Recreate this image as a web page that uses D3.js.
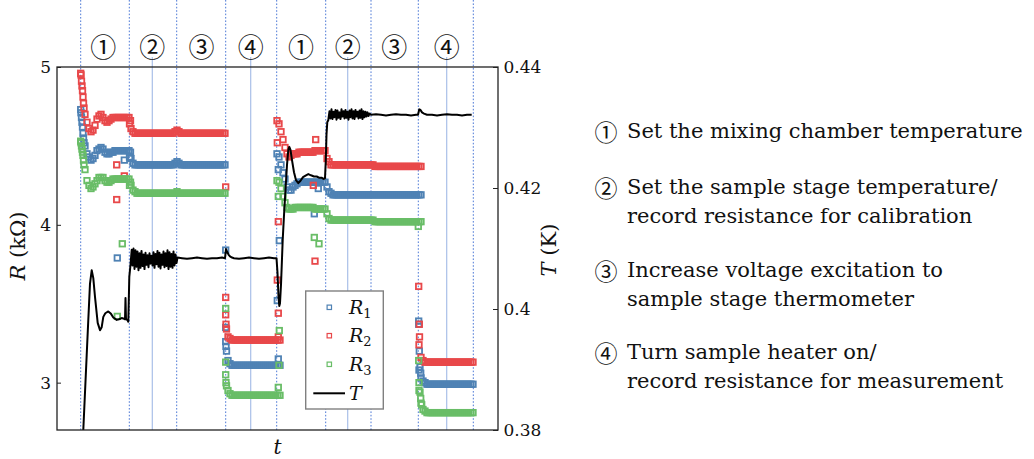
<!DOCTYPE html>
<html><head><meta charset="utf-8">
<script src="https://cdn.jsdelivr.net/npm/d3@7"></script>
<style>
html,body{margin:0;padding:0;background:#fff;}
svg{display:block;}
</style></head>
<body>
<svg id="chart" width="1034" height="459"></svg>
<script>
// ---------------- data ----------------
const tDomain = [0, 441];            // time (arbitrary units)
const rDomain = [2.7, 5];            // kOhm
const tempDomain = [0.38, 0.44];     // K
const rTicks = [3, 4, 5];
const rTickLabels = ["3", "4", "5"];
const tempTicks = [0.38, 0.40, 0.42, 0.44];
const tempTickLabels = ["0.38", "0.4", "0.42", "0.44"];

// phase boundaries (dotted), phase mid markers (solid), phase labels
const phaseEdges = [23.7, 72.3, 119.7, 168.7, 219.7, 268.7, 314, 361.3, 416.3];
const phaseMids = [95.3, 193.7, 290.7, 389.7];
const phaseLabelT = [46.3, 95.3, 144.5, 193.7, 244, 290.7, 337.3, 389.7];
const phaseLabels = ["①", "②", "③", "④", "①", "②", "③", "④"];

// regular sampling: segment start times, step
const segStart = [24, 74, 169, 220, 270, 362];
const sampleStep = 2;

const R1_A = [4.71,4.58,4.50,4.45,4.43,4.41,4.42,4.44,4.47,4.48,4.49,4.48,4.46,4.45,4.45,4.46,4.46,4.47,4.47,4.47,4.47,4.47,4.47,4.47,4.47];
const R1_B = [4.42,4.39,4.38,4.38,4.38,4.38,4.38,4.38,4.38,4.38,4.38,4.38,4.38,4.38,4.38,4.38,4.38,4.38,4.38,4.38,4.38,4.38,4.39,4.40,4.39,4.38,4.38,4.38,4.38,4.38,4.38,4.38,4.38,4.38,4.38,4.38,4.38,4.38,4.38,4.38,4.38,4.38,4.38,4.38,4.38,4.38,4.38,4.38];
const R1_C = [3.23,3.14,3.12,3.11,3.11,3.11,3.11,3.11,3.11,3.11,3.11,3.11,3.11,3.11,3.11,3.11,3.11,3.11,3.11,3.11,3.11,3.11,3.11,3.11,3.11,3.11,3.11,3.11];
const R1_D = [4.45,4.43,4.38,4.33,4.29,4.24,4.22,4.22,4.24,4.25,4.26,4.27,4.27,4.27,4.27,4.27,4.27,4.27,4.27,4.27,4.27,4.27,4.27,4.27,4.27];
const R1_E = [4.24,4.21,4.20,4.19,4.19,4.19,4.19,4.19,4.19,4.19,4.19,4.19,4.19,4.19,4.19,4.19,4.19,4.19,4.19,4.19,4.19,4.19,4.19,4.19,4.19,4.19,4.19,4.19,4.19,4.19,4.19,4.19,4.19,4.19,4.19,4.19,4.19,4.19,4.19,4.19,4.19,4.19,4.19,4.19,4.19,4.19,4.19,4.19];
const R1_F = [3.08,3.03,3.01,3.00,2.99,2.99,2.99,2.99,2.99,2.99,2.99,2.99,2.99,2.99,2.99,2.99,2.99,2.99,2.99,2.99,2.99,2.99,2.99,2.99,2.99,2.99,2.99,2.99];

const R2_A = [4.95,4.81,4.70,4.65,4.61,4.59,4.60,4.63,4.67,4.69,4.70,4.68,4.66,4.65,4.66,4.67,4.68,4.68,4.68,4.68,4.68,4.68,4.68,4.68,4.68];
const R2_B = [4.61,4.59,4.58,4.58,4.58,4.58,4.58,4.58,4.58,4.58,4.58,4.58,4.58,4.58,4.58,4.58,4.58,4.58,4.58,4.58,4.58,4.58,4.59,4.60,4.59,4.58,4.58,4.58,4.58,4.58,4.58,4.58,4.58,4.58,4.58,4.58,4.58,4.58,4.58,4.58,4.58,4.58,4.58,4.58,4.58,4.58,4.58,4.58];
const R2_C = [3.37,3.29,3.28,3.27,3.27,3.27,3.27,3.27,3.27,3.27,3.27,3.27,3.27,3.27,3.27,3.27,3.27,3.27,3.27,3.27,3.27,3.27,3.27,3.27,3.27,3.27,3.27,3.27];
const R2_D = [4.66,4.64,4.59,4.54,4.49,4.45,4.43,4.44,4.45,4.45,4.45,4.46,4.46,4.46,4.46,4.46,4.46,4.46,4.46,4.47,4.47,4.47,4.47,4.47,4.47];
const R2_E = [4.42,4.40,4.38,4.38,4.38,4.38,4.38,4.38,4.38,4.38,4.38,4.38,4.38,4.38,4.38,4.38,4.38,4.38,4.38,4.38,4.38,4.38,4.38,4.38,4.37,4.37,4.37,4.37,4.37,4.37,4.37,4.37,4.37,4.37,4.37,4.37,4.37,4.37,4.37,4.37,4.37,4.37,4.37,4.37,4.37,4.37,4.37,4.37];
const R2_F = [3.24,3.16,3.14,3.13,3.13,3.13,3.13,3.13,3.13,3.13,3.13,3.13,3.13,3.13,3.13,3.13,3.13,3.13,3.13,3.13,3.13,3.13,3.13,3.13,3.13,3.13,3.13,3.13];

const R3_A = [4.52,4.44,4.35,4.28,4.25,4.23,4.24,4.26,4.28,4.30,4.30,4.30,4.28,4.27,4.27,4.28,4.29,4.29,4.29,4.29,4.29,4.29,4.29,4.29,4.29];
const R3_B = [4.25,4.22,4.21,4.20,4.20,4.20,4.20,4.20,4.20,4.20,4.20,4.20,4.20,4.20,4.20,4.20,4.20,4.20,4.20,4.20,4.20,4.20,4.20,4.21,4.20,4.20,4.20,4.20,4.20,4.20,4.20,4.20,4.20,4.20,4.20,4.20,4.20,4.20,4.20,4.20,4.20,4.20,4.20,4.20,4.20,4.20,4.20,4.20];
const R3_C = [3.00,2.95,2.93,2.92,2.92,2.92,2.92,2.92,2.92,2.92,2.92,2.92,2.92,2.92,2.92,2.92,2.92,2.92,2.92,2.92,2.92,2.92,2.92,2.92,2.92,2.92,2.92,2.92];
const R3_D = [4.28,4.27,4.23,4.18,4.14,4.11,4.10,4.10,4.10,4.11,4.11,4.11,4.11,4.11,4.11,4.11,4.11,4.11,4.11,4.10,4.10,4.10,4.10,4.10,4.10];
const R3_E = [4.07,4.04,4.03,4.03,4.03,4.03,4.03,4.03,4.03,4.03,4.03,4.03,4.03,4.03,4.03,4.03,4.03,4.03,4.03,4.03,4.03,4.03,4.03,4.03,4.02,4.02,4.02,4.02,4.02,4.02,4.02,4.02,4.02,4.02,4.02,4.02,4.02,4.02,4.02,4.02,4.02,4.02,4.02,4.02,4.02,4.02,4.02,4.02];
const R3_F = [2.95,2.87,2.83,2.82,2.81,2.81,2.81,2.81,2.81,2.81,2.81,2.81,2.81,2.81,2.81,2.81,2.81,2.81,2.81,2.81,2.81,2.81,2.81,2.81,2.81,2.81,2.81,2.81];

// irregular samples (fast transients and stray readings): [t, R]
const R1_extra = [[23.7,4.73],[24.5,4.68],[25,4.65],[25.5,4.62],[26.5,4.55],[27,4.52],[72.5,4.43],[73.5,4.46],[60.3,3.79],[67.3,4.41],[168.7,3.84],[168.7,3.35],[168.7,3.26],[169.5,3.20],[220.3,3.52],[221.3,3.15],[221.3,4.35],[222.3,3.90],[257.3,4.07],[261.3,4.23],[361.7,3.39],[361.7,3.37],[362.3,3.20],[363,3.10],[363.7,3.06]];
const R2_extra = [[23.7,4.96],[24.5,4.91],[25,4.88],[25.5,4.85],[26.5,4.77],[27,4.74],[72.5,4.64],[73.5,4.66],[59.7,4.38],[59.7,4.16],[67.3,4.31],[168.7,4.24],[168.7,3.54],[168.7,3.43],[169.5,3.34],[220.3,4.52],[220.3,3.65],[221.3,3.44],[221.3,3.29],[221.3,4.02],[256.3,4.25],[258,3.77],[258.7,4.54],[361.7,3.61],[362.3,3.37],[362.5,3.29]];
const R3_extra = [[23.7,4.53],[24.5,4.50],[25,4.48],[25.5,4.46],[26.5,4.41],[27,4.38],[72.5,4.25],[73.5,4.27],[60.3,3.42],[65.3,3.88],[168.7,3.47],[168.7,3.13],[168.7,3.05],[169.5,2.98],[221.3,2.97],[221.3,4.18],[222,3.11],[222.3,3.33],[257.3,3.92],[262,3.88],[361.3,3.99],[361.7,3.14],[362,3.00],[363,2.94],[363.7,2.90],[364.7,2.86]];

// temperature trace: [t, T (K)]
const tempTrace = [
[25.5,0.370],[26.3,0.380],[29.7,0.3924],[31.3,0.3982],[33,0.4042],[34.7,0.4064],[36.3,0.4051],[38,0.4020],[40.7,0.3977],[43,0.3965],[44.7,0.3970],[46.3,0.3987],[48.3,0.3993],[51.3,0.3996],[54,0.3992],[56.3,0.3986],[59.7,0.3982],[62,0.3983],[64.7,0.3985],[67,0.3984],[68,0.3983],[68.5,0.4018],[69,0.3983],[70.3,0.3982],[71.3,0.3979],[72.3,0.4053],[73.5,0.4073],[74.7,0.4098],
[75.5,0.4072],[76.5,0.4100],[77.5,0.4066],[78.5,0.4097],[79.5,0.4070],[80.5,0.4095],[81.5,0.4064],[82.5,0.4092],[83.5,0.4068],[84.5,0.4096],[85.5,0.4071],[86.5,0.4090],[87.5,0.4066],[88.5,0.4093],[89.5,0.4073],[90.5,0.4089],[91.5,0.4069],[92.5,0.4092],[93.5,0.4075],[94.5,0.4088],[95.5,0.4072],[96.5,0.4094],[97.5,0.4068],[98.5,0.4091],[99.5,0.4074],[100.5,0.4096],[101.5,0.4070],[102.5,0.4093],[103.5,0.4067],[104.5,0.4090],[105.5,0.4073],[106.5,0.4095],[107.5,0.4069],[108.5,0.4092],[109.5,0.4071],[110.5,0.4097],[111.5,0.4066],[112.5,0.4094],[113.5,0.4070],[114.5,0.4091],[115.5,0.4068],[116.5,0.4095],[117.5,0.4072],[118.5,0.4090],[119.5,0.4076],
[120.5,0.4085],[125,0.4084],[130,0.4083],[135,0.4084],[140,0.4085],[145,0.4084],[150,0.4083],[155,0.4084],[160,0.4084],[165,0.4085],[168,0.4084],[169,0.4099],[170,0.4095],[171.5,0.4090],[173,0.4087],[175,0.4085],[177,0.4084],[182,0.4083],[187,0.4084],[192,0.4085],[197,0.4084],[202,0.4083],[207,0.4084],[212,0.4085],[217,0.4084],[219.5,0.4084],
[220.5,0.4060],[221.5,0.4020],[222.3,0.4005],[223,0.4010],[224,0.4040],[225.7,0.4114],[227,0.4155],[228.5,0.4197],[230,0.4238],[231.3,0.4263],[232.3,0.4268],[233.5,0.4263],[235,0.4246],[237,0.4226],[239,0.4213],[241.3,0.4208],[243.5,0.4212],[246,0.4218],[249,0.4221],[251.3,0.4223],[254,0.4221],[257,0.4219],[259.7,0.4219],[262,0.4217],[264.5,0.4217],[266.5,0.4215],[268,0.4216],[268.8,0.4246],[269.5,0.4288],[270.3,0.4309],[271.3,0.4312],
[272.5,0.4327],[273.5,0.4315],[274.5,0.4330],[275.5,0.4314],[276.5,0.4326],[277.5,0.4317],[278.5,0.4329],[279.5,0.4313],[280.5,0.4328],[281.5,0.4316],[282.5,0.4325],[283.5,0.4314],[284.5,0.4330],[285.5,0.4318],[286.5,0.4327],[287.5,0.4315],[288.5,0.4329],[289.5,0.4316],[290.5,0.4326],[291.5,0.4313],[292.5,0.4328],[293.5,0.4317],[294.5,0.4330],[295.5,0.4315],[296.5,0.4327],[297.5,0.4314],[298.5,0.4329],[299.5,0.4318],[300.5,0.4326],[301.5,0.4315],[302.5,0.4328],[303.5,0.4316],[304.5,0.4330],[305.5,0.4314],[306.5,0.4327],[307.5,0.4317],[308.5,0.4326],[309.5,0.4318],[310.5,0.4325],[311.5,0.4319],[312.5,0.4323],
[314,0.4321],[319,0.4322],[324,0.4321],[329,0.4320],[334,0.4321],[339,0.4322],[344,0.4321],[349,0.4321],[354,0.4320],[359,0.4321],[361,0.4321],[362.3,0.4330],[363.5,0.4329],[365,0.4325],[367,0.4323],[370,0.4321],[375,0.4321],[380,0.4320],[385,0.4321],[390,0.4322],[395,0.4321],[400,0.4321],[405,0.4320],[410,0.4321],[414.7,0.4321]
];

const seriesNames = ["R1", "R2", "R3"];
const seriesColors = ["#4f82b4", "#e8484a", "#69bd67"];
const noteMarks = ["①", "②", "③", "④"];
const noteLines = [
  ["Set the mixing chamber temperature"],
  ["Set the sample stage temperature/", "record resistance for calibration"],
  ["Increase voltage excitation to", "sample stage thermometer"],
  ["Turn sample heater on/", "record resistance for measurement"]
];

// ---------------- drawing ----------------
const svg = d3.select("#chart");
const plot = {left: 57, right: 498, top: 67, bottom: 430};
const x = d3.scaleLinear().domain(tDomain).range([plot.left, plot.right]);
const yR = d3.scaleLinear().domain(rDomain).range([plot.bottom, plot.top]);
const yT = d3.scaleLinear().domain(tempDomain).range([plot.bottom, plot.top]);
const serif = "'DejaVu Serif', 'Liberation Serif', serif";
const circFont = "'Noto Sans CJK JP', 'DejaVu Sans', sans-serif";

svg.append("defs").append("clipPath").attr("id", "plotclip")
  .append("rect").attr("x", plot.left).attr("y", plot.top)
  .attr("width", plot.right - plot.left).attr("height", plot.bottom - plot.top);

// vertical guide lines
svg.append("g").selectAll("line").data(phaseEdges).join("line")
  .attr("x1", d => x(d)).attr("x2", d => x(d))
  .attr("y1", 0).attr("y2", plot.bottom)
  .attr("stroke", "#4d79d6").attr("stroke-width", 1)
  .attr("stroke-dasharray", "1.6,1.8");
svg.append("g").selectAll("line").data(phaseMids).join("line")
  .attr("x1", d => x(d)).attr("x2", d => x(d))
  .attr("y1", 57).attr("y2", plot.bottom)
  .attr("stroke", "#a9bfe8").attr("stroke-width", 1.2);

// phase labels
svg.append("g").selectAll("text").data(phaseLabels).join("text")
  .attr("x", (d, i) => x(phaseLabelT[i])).attr("y", 45)
  .attr("text-anchor", "middle").attr("dominant-baseline", "central")
  .attr("font-family", circFont).attr("font-size", 26)
  .attr("fill", "#111").text(d => d);

// resistance markers
const allSeg = [
  [R1_A, R1_B, R1_C, R1_D, R1_E, R1_F],
  [R2_A, R2_B, R2_C, R2_D, R2_E, R2_F],
  [R3_A, R3_B, R3_C, R3_D, R3_E, R3_F]
];
const extras = [R1_extra, R2_extra, R3_extra];
const msz = 5.5;
const gData = svg.append("g").attr("clip-path", "url(#plotclip)");
allSeg.forEach((segs, s) => {
  const pts = [];
  segs.forEach((vals, k) => vals.forEach((v, i) => pts.push([segStart[k] + i * sampleStep, v])));
  extras[s].forEach(p => pts.push(p));
  gData.append("g").selectAll("rect").data(pts).join("rect")
    .attr("x", d => x(d[0]) - msz / 2).attr("y", d => yR(d[1]) - msz / 2)
    .attr("width", msz).attr("height", msz)
    .attr("fill", "none").attr("stroke", seriesColors[s]).attr("stroke-width", 1.8);
});

// temperature line
gData.append("path").datum(tempTrace)
  .attr("d", d3.line().x(d => x(d[0])).y(d => yT(d[1])))
  .attr("fill", "none").attr("stroke", "#000").attr("stroke-width", 2)
  .attr("stroke-linejoin", "round");

// frame
svg.append("rect").attr("x", plot.left).attr("y", plot.top)
  .attr("width", plot.right - plot.left).attr("height", plot.bottom - plot.top)
  .attr("fill", "none").attr("stroke", "#222").attr("stroke-width", 1.3);

// axes
const axL = svg.append("g").attr("transform", `translate(${plot.left},0)`)
  .call(d3.axisLeft(yR).tickValues(rTicks).tickSize(-4).tickPadding(6)
    .tickFormat((d, i) => rTickLabels[i]));
const axR = svg.append("g").attr("transform", `translate(${plot.right},0)`)
  .call(d3.axisRight(yT).tickValues(tempTicks).tickSize(-5).tickPadding(5.5)
    .tickFormat((d, i) => tempTickLabels[i]));
[axL, axR].forEach(a => {
  a.select(".domain").remove();
  a.selectAll("line").attr("stroke", "#222");
  a.selectAll("text").attr("font-family", serif).attr("font-size", 17).attr("fill", "#111");
});

// axis titles
const rl = svg.append("text").attr("transform", "translate(25,246) rotate(-90)")
  .attr("text-anchor", "middle").attr("font-family", serif).attr("font-size", 21).attr("fill", "#111");
rl.append("tspan").attr("font-style", "italic").text("R");
rl.append("tspan").text(" (kΩ)");
const tl = svg.append("text").attr("transform", "translate(556,250) rotate(-90)")
  .attr("text-anchor", "middle").attr("font-family", serif).attr("font-size", 21).attr("fill", "#111");
tl.append("tspan").attr("font-style", "italic").text("T");
tl.append("tspan").text(" (K)");
svg.append("text").attr("x", x(220.5)).attr("y", 453.5).attr("text-anchor", "middle")
  .attr("font-family", serif).attr("font-style", "italic").attr("font-size", 20).attr("fill", "#111").text("t");

// legend
const lg = svg.append("g");
lg.append("rect").attr("x", 305.7).attr("y", 291).attr("width", 77.6).attr("height", 118)
  .attr("fill", "#fff").attr("stroke", "#808080").attr("stroke-width", 1.4);
const legY = [307.3, 335.7, 364.3];
seriesNames.forEach((n, i) => {
  lg.append("rect").attr("x", 329.3 - 2.2).attr("y", legY[i] - 2.2).attr("width", 4.4).attr("height", 4.4)
    .attr("fill", "none").attr("stroke", seriesColors[i]).attr("stroke-width", 1.2);
  const t = lg.append("text").attr("x", 349).attr("y", legY[i] + 6.5)
    .attr("font-family", serif).attr("font-size", 19).attr("fill", "#111");
  t.append("tspan").attr("font-style", "italic").text("R");
  t.append("tspan").attr("font-size", 13).attr("dy", 4).text(n.slice(1));
});
lg.append("line").attr("x1", 313.3).attr("x2", 345).attr("y1", 393.3).attr("y2", 393.3)
  .attr("stroke", "#000").attr("stroke-width", 2);
lg.append("text").attr("x", 349).attr("y", 399.8).attr("font-family", serif)
  .attr("font-style", "italic").attr("font-size", 19).attr("fill", "#111").text("T");

// notes on the right
const noteBase = [138, 194, 277, 359];
const noteGap = 28.5;
noteMarks.forEach((m, i) => {
  svg.append("text").attr("x", 606).attr("y", noteBase[i] - 7).attr("text-anchor", "middle")
    .attr("dominant-baseline", "central")
    .attr("font-family", circFont).attr("font-size", 23).attr("fill", "#111").text(m);
  noteLines[i].forEach((line, j) => {
    svg.append("text").attr("x", 627).attr("y", noteBase[i] + j * noteGap)
      .attr("font-family", serif).attr("font-size", 21).attr("fill", "#111").text(line);
  });
});
</script>
</body></html>
